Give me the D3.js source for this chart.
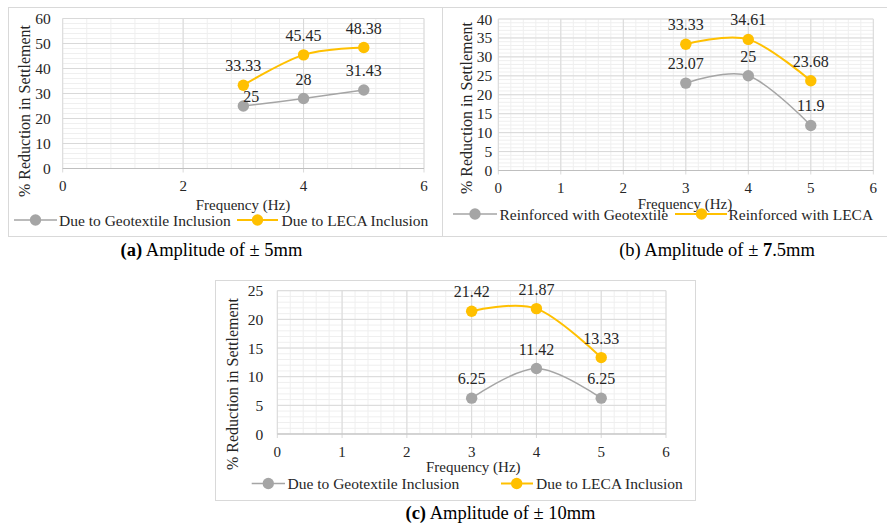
<!DOCTYPE html>
<html>
<head>
<meta charset="utf-8">
<script src="https://cdn.jsdelivr.net/npm/d3@7"></script>
<style>
  html, body { margin: 0; padding: 0; background: #fff; }
  svg { display: block; }
  svg text { font-family: "Liberation Serif", "Times New Roman", Times, "DejaVu Serif", serif; }
</style>
</head>
<body>
<svg id="chart" width="887" height="527"></svg>
<script>
// ---------- DATA ----------
const frequencies = [3, 4, 5];

const geoA  = [25, 28, 31.43];
const lecaA = [33.33, 45.45, 48.38];
const geoB  = [23.07, 25, 11.9];
const lecaB = [33.33, 34.61, 23.68];
const geoC  = [6.25, 11.42, 6.25];
const lecaC = [21.42, 21.87, 13.33];

const xTicksA = [0, 2, 4, 6];
const xTicksBC = [0, 1, 2, 3, 4, 5, 6];
const yTicksA = [0, 10, 20, 30, 40, 50, 60];
const yTicksB = [0, 5, 10, 15, 20, 25, 30, 35, 40];
const yTicksC = [0, 5, 10, 15, 20, 25];

const legendA = ["Due to Geotextile Inclusion", "Due to LECA Inclusion"];
const legendB = ["Reinforced with Geotextile", "Reinforced with LECA"];
const legendC = ["Due to Geotextile Inclusion", "Due to LECA Inclusion"];

const xTitle = "Frequency (Hz)";
const yTitle = "% Reduction in Settlement";

// ---------- STYLE / LAYOUT ----------
const FONT = "'Liberation Serif', 'Times New Roman', Times, 'DejaVu Serif', serif";
const GRAY = "#a5a5a5", GOLD = "#ffc000";
const svg = d3.select("#chart").attr("font-family", FONT);

const defs = svg.append("defs");
defs.append("filter").attr("id", "soft").attr("x", "-50%").attr("y", "-50%").attr("width", "200%").attr("height", "200%")
  .append("feGaussianBlur").attr("stdDeviation", 0.7);

const panels = [
  { box: [8, 7, 442, 236], plot: [62.7, 18.5, 424, 168.5], xMax: 6, yMax: 60,
    xTicks: xTicksA, yTicks: yTicksA, xMinor: 5, yMinor: 5, yLabelGap: 12,
    series: [geoA, lecaA], legend: legendA,
    yTitlePos: [24, 111], xTitlePos: [243, 204.5],
    legendY: 220, legendItems: [[14, 57, 35.5, 59], [237, 278, 257.5, 281.5]],
    labelAdj: { "0-0": [8, 10] } },
  { box: [442, 7, 887.5, 236], plot: [498.3, 19, 873.3, 170.5], xMax: 6, yMax: 40,
    xTicks: xTicksBC, yTicks: yTicksB, xMinor: 5, yMinor: 5, yLabelGap: 6,
    series: [geoB, lecaB], legend: legendB,
    yTitlePos: [466.7, 108], xTitlePos: [685, 203.5],
    legendY: 214, legendItems: [[453, 497, 475, 499.5], [675, 727, 701.5, 728.5]],
    labelAdj: {} },
  { box: [215, 280, 695, 500], plot: [277.3, 290.7, 666, 434], xMax: 6, yMax: 25,
    xTicks: xTicksBC, yTicks: yTicksC, xMinor: 5, yMinor: 5, yLabelGap: 14,
    series: [geoC, lecaC], legend: legendC,
    yTitlePos: [232.3, 384], xTitlePos: [473.3, 466],
    legendY: 483.5, legendItems: [[251.7, 285, 268.3, 287.5], [501, 533, 516.7, 536]],
    labelAdj: {} }
];

const colors = [GRAY, GOLD];
const widths = [1.5, 2];

panels.forEach(p => {
  const g = svg.append("g");
  const [bx0, by0, bx1, by1] = p.box;
  g.append("rect").attr("x", bx0 + 0.5).attr("y", by0 + 0.5)
    .attr("width", bx1 - bx0).attr("height", by1 - by0)
    .attr("fill", "#fff").attr("stroke", "#d9d9d9").attr("stroke-width", 1);

  const [px0, py0, px1, py1] = p.plot;
  const x = d3.scaleLinear().domain([0, p.xMax]).range([px0, px1]);
  const y = d3.scaleLinear().domain([0, p.yMax]).range([py1, py0]);

  // minor grid
  const xStep = p.xTicks[1] - p.xTicks[0];
  const yStep = p.yTicks[1] - p.yTicks[0];
  const xMinorTicks = d3.range(0, p.xMax + 1e-9, xStep / p.xMinor);
  const yMinorTicks = d3.range(0, p.yMax + 1e-9, yStep / p.yMinor);
  g.append("g").selectAll("line").data(xMinorTicks).join("line")
    .attr("x1", d => x(d)).attr("x2", d => x(d)).attr("y1", py0).attr("y2", py1)
    .attr("stroke", "#efefef").attr("stroke-width", 1);
  g.append("g").selectAll("line").data(yMinorTicks).join("line")
    .attr("x1", px0).attr("x2", px1).attr("y1", d => y(d)).attr("y2", d => y(d))
    .attr("stroke", "#efefef").attr("stroke-width", 1);

  // major grid
  g.append("g").selectAll("line").data(p.xTicks).join("line")
    .attr("x1", d => x(d)).attr("x2", d => x(d)).attr("y1", py0).attr("y2", py1 + 4)
    .attr("stroke", "#d9d9d9").attr("stroke-width", 1);
  g.append("g").selectAll("line").data(p.yTicks).join("line")
    .attr("x1", px0).attr("x2", px1).attr("y1", d => y(d)).attr("y2", d => y(d))
    .attr("stroke", "#d9d9d9").attr("stroke-width", 1);
  g.append("line").attr("x1", px0).attr("x2", px1).attr("y1", y(0)).attr("y2", y(0))
    .attr("stroke", "#bfbfbf").attr("stroke-width", 1);

  // tick labels
  g.append("g").selectAll("text").data(p.xTicks).join("text")
    .attr("x", d => x(d)).attr("y", py1 + 22.5)
    .attr("text-anchor", "middle").attr("font-size", 15).attr("fill", "#262626")
    .text(d => d);
  g.append("g").selectAll("text").data(p.yTicks).join("text")
    .attr("x", px0 - p.yLabelGap).attr("y", d => y(d) + 5.5)
    .attr("text-anchor", "end").attr("font-size", 15.5).attr("fill", "#262626")
    .text(d => d);

  // axis titles
  g.append("text").attr("transform", `translate(${p.yTitlePos[0] + 5.5},${p.yTitlePos[1]}) rotate(-90)`)
    .attr("text-anchor", "middle").attr("font-size", 16).attr("fill", "#262626").text(yTitle);
  g.append("text").attr("x", p.xTitlePos[0]).attr("y", p.xTitlePos[1] + 5.5)
    .attr("text-anchor", "middle").attr("font-size", 15).attr("fill", "#262626").text(xTitle);

  // series
  const line = d3.line().x(d => x(d[0])).y(d => y(d[1])).curve(d3.curveCardinal.tension(0));
  p.series.forEach((vals, si) => {
    const pts = frequencies.map((f, i) => [f, vals[i]]);
    g.append("path").attr("d", line(pts)).attr("fill", "none")
      .attr("stroke", colors[si]).attr("stroke-width", widths[si]);
    g.append("g").selectAll("circle").data(pts).join("circle")
      .attr("cx", d => x(d[0])).attr("cy", d => y(d[1])).attr("r", 5.7)
      .attr("fill", colors[si]).attr("filter", "url(#soft)");
  });
  p.series.forEach((vals, si) => {
    frequencies.forEach((f, i) => {
      const adj = p.labelAdj[si + "-" + i] || [0, 0];
      g.append("text").attr("x", x(f) + adj[0]).attr("y", y(vals[i]) - 14 + adj[1])
        .attr("text-anchor", "middle").attr("font-size", 16).attr("fill", "#262626")
        .text(vals[i]);
    });
  });

  // legend
  p.legend.forEach((lab, li) => {
    const [l0, l1, mx, tx] = p.legendItems[li];
    g.append("line").attr("x1", l0).attr("x2", l1).attr("y1", p.legendY).attr("y2", p.legendY)
      .attr("stroke", colors[li]).attr("stroke-width", widths[li]);
    g.append("circle").attr("cx", mx).attr("cy", p.legendY).attr("r", 5.7)
      .attr("fill", colors[li]).attr("filter", "url(#soft)");
    g.append("text").attr("x", tx).attr("y", p.legendY + 5.5)
      .attr("font-size", 15.5).attr("fill", "#262626").text(lab);
  });
});

// captions
function caption(cx, cy, parts) {
  const t = svg.append("text").attr("x", cx).attr("y", cy).attr("text-anchor", "middle")
    .attr("font-size", 18.5).attr("fill", "#000");
  parts.forEach(([s, bold]) => t.append("tspan").attr("font-weight", bold ? "bold" : "normal").text(s));
}
caption(211.5, 256, [["(a)", true], [" Amplitude of \u00b1 5mm", false]]);
caption(717, 256, [["(b) Amplitude of \u00b1 ", false], ["7", true], [".5mm", false]]);
caption(500.5, 518.5, [["(c)", true], ["  Amplitude of \u00b1 10mm", false]]);
</script>
</body>
</html>
